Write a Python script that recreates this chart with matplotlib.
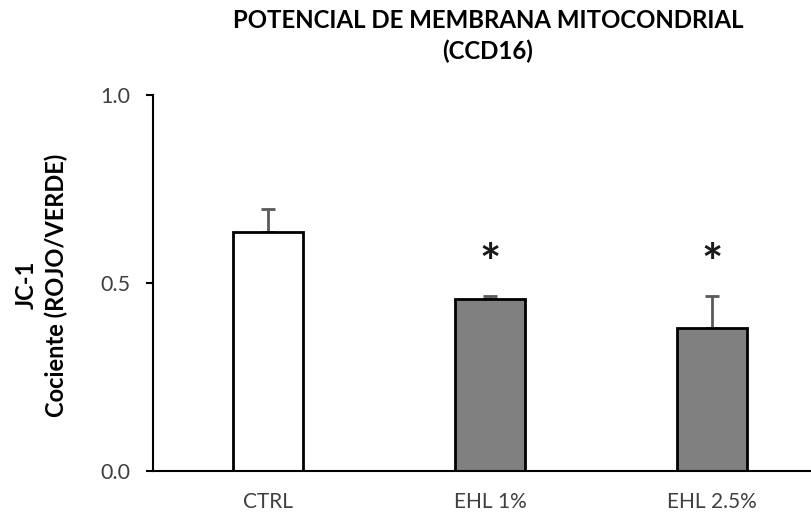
import matplotlib
matplotlib.use("Agg")
import matplotlib.pyplot as plt

categories = ["CTRL", "EHL 1%", "EHL 2.5%"]
values = [0.636, 0.457, 0.381]
errors = [0.060, 0.008, 0.085]
significant = [False, True, True]
colors = ["#FFFFFF", "#808080", "#808080"]
yticks = [0.0, 0.5, 1.0]
ytick_labels = ["0.0", "0.5", "1.0"]

plt.rcParams['font.family'] = ['Lato', 'DejaVu Sans']

W, H = 812, 516
fig = plt.figure(figsize=(W/100, H/100), dpi=100)
left, right = 153/W, 823/W
bottom, top = 1 - 471/H, 1 - 95/H
ax = fig.add_axes([left, bottom, right-left, top-bottom])

x = list(range(len(categories)))
ax.bar(x, values, width=0.315, color=colors, edgecolor="black", linewidth=2, zorder=2)
ax.errorbar(x, values, yerr=[[0]*len(errors), errors], fmt="none", ecolor="#595959",
            elinewidth=2, capsize=5, capthick=2, zorder=1)
for xi, v, e, s in zip(x, values, errors, significant):
    if s:
        ax.text(xi, 0.546, "*", ha="center", va="center", fontsize=36, fontweight="bold",
                color="#1a1a1a")

ax.set_xlim(-0.52, 2.5)
ax.set_ylim(0, 1.0)
ax.set_yticks(yticks)
ax.set_yticklabels(ytick_labels)
ax.set_xticks(x)
ax.set_xticklabels(categories)
ax.tick_params(axis="x", length=0, pad=15, labelsize=15, labelcolor="#404040")
ax.tick_params(axis="y", length=5, width=1.5, direction="out", labelsize=15.5,
               labelcolor="#404040", pad=11)
ax.tick_params(axis="both", color="black")
for sp in ["top", "right"]:
    ax.spines[sp].set_visible(False)
for sp in ["left", "bottom"]:
    ax.spines[sp].set_linewidth(1.5)

cx = (left + right) / 2
fig.text(cx, 1 - 21/H, "POTENCIAL DE MEMBRANA MITOCONDRIAL",
         ha="center", va="center", fontsize=17.3, fontweight="bold")
fig.text(cx, 1 - 51/H, "(CCD16)",
         ha="center", va="center", fontsize=17.3, fontweight="bold")
fig.text(38/W, 1 - 285/H, "JC-1", ha="right", va="center",
         rotation=90, fontsize=17, fontweight="bold")
fig.text(68/W, 1 - 285/H, "Cociente (ROJO/VERDE)", ha="right", va="center",
         rotation=90, fontsize=17, fontweight="bold")

fig.savefig("out.png", dpi=100)
